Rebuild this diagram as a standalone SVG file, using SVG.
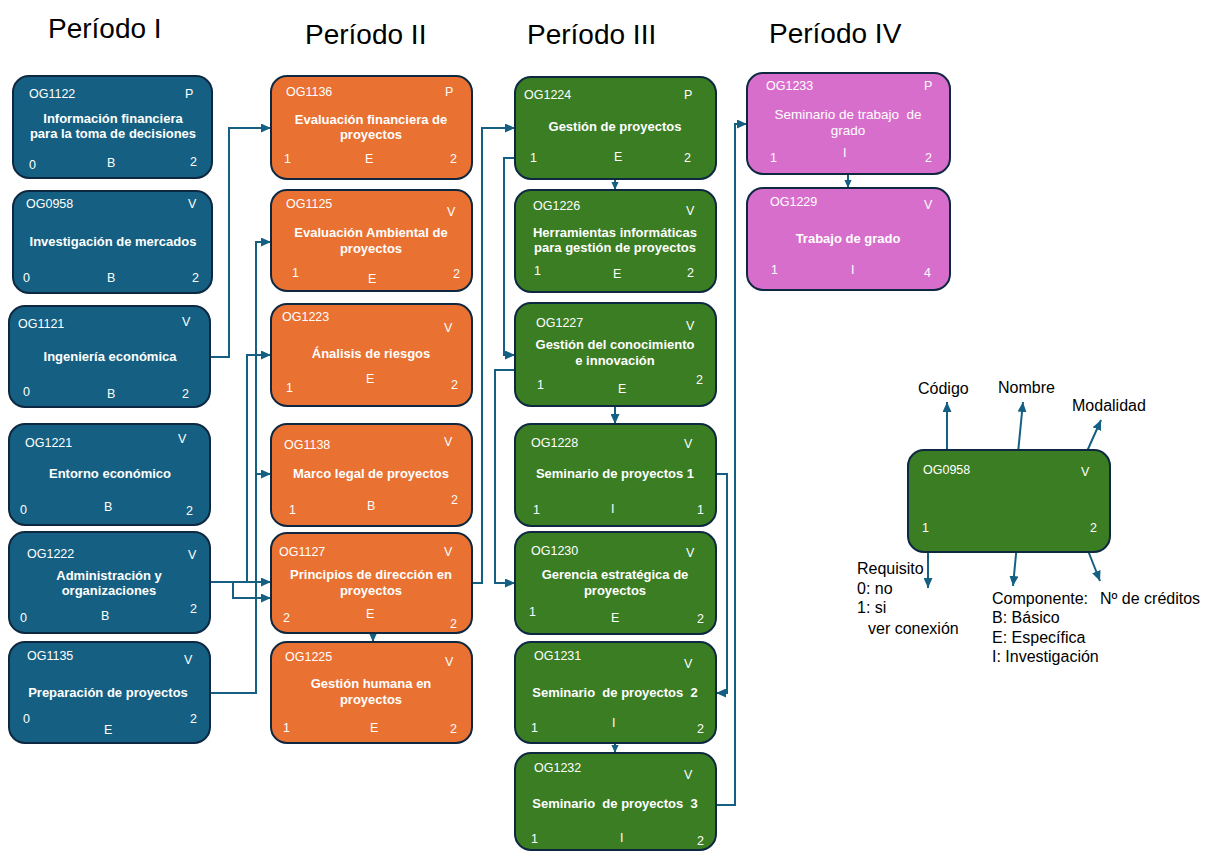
<svg xmlns="http://www.w3.org/2000/svg" width="1206" height="852" viewBox="0 0 1206 852">
<style>
.box{stroke:#0E2841;stroke-width:2}
.b1{fill:#156082}.b2{fill:#E97132}.b3{fill:#3B7D23}.b4{fill:#D86ECC}
text{font-family:"Liberation Sans",Arial,sans-serif;fill:#fff}
.c{font-size:12.5px}
.n{font-size:13px;font-weight:bold;text-anchor:middle}
.nr{font-size:13.5px;text-anchor:middle}
.t{font-size:28px;fill:#000}
.l{font-size:16px;fill:#000}
.con{fill:none;stroke:#156082;stroke-width:2}
</style>
<defs>
<marker id="ah" viewBox="0 0 10 9" refX="10" refY="4.5" markerWidth="10" markerHeight="9" markerUnits="userSpaceOnUse" orient="auto">
<path d="M0,0 L10,4.5 L0,9 z" fill="#156082"/>
</marker>
<marker id="as" viewBox="0 0 10 9" refX="10" refY="4.5" markerWidth="8" markerHeight="8" markerUnits="userSpaceOnUse" orient="auto">
<path d="M0,0 L10,4.5 L0,9 z" fill="#156082"/>
</marker>
</defs>
<rect width="1206" height="852" fill="#fff"/>
<g id="titles">
<text class="t" x="48" y="38">Período I</text>
<text class="t" x="305" y="44">Período II</text>
<text class="t" x="527" y="44">Período III</text>
<text class="t" x="769" y="43">Período IV</text>
</g>
<g id="connectors">
<path class="con" d="M211,357 H229 V128 H271" marker-end="url(#ah)"/>
<path class="con" d="M211,693 H256 V242 H271" marker-end="url(#ah)"/>
<path class="con" d="M256,474 H271" marker-end="url(#ah)"/>
<path class="con" d="M211,582 H247 V355 H271" marker-end="url(#ah)"/>
<path class="con" d="M211,582 H271" marker-end="url(#ah)"/>
<path class="con" d="M233,582 V598 H271" marker-end="url(#ah)"/>
<path class="con" d="M472,583 H482 V128 H515" marker-end="url(#ah)"/>
<path class="con" d="M515,158 H504 V355 H515" marker-end="url(#ah)"/>
<path class="con" d="M515,370 H495 V583 H515" marker-end="url(#ah)"/>
<path class="con" d="M615,179 V190" marker-end="url(#as)"/>
<path class="con" d="M615,406 V424" marker-end="url(#ah)"/>
<path class="con" d="M716,474 H727 V693 H716" marker-end="url(#ah)"/>
<path class="con" d="M615,743 V753" marker-end="url(#as)"/>
<path class="con" d="M716,805 H735 V124 H747" marker-end="url(#ah)"/>
<path class="con" d="M848,174 V188" marker-end="url(#as)"/>
<path class="con" d="M373,633 V642" marker-end="url(#as)"/>
<path class="con" d="M947,457 V402" marker-end="url(#ah)"/>
<path class="con" d="M1014,494 L1023,402" marker-end="url(#ah)"/>
<path class="con" d="M1084,458 L1101,420" marker-end="url(#ah)"/>
<path class="con" d="M928,543 V588" marker-end="url(#ah)"/>
<path class="con" d="M1018,533 L1013,586" marker-end="url(#ah)"/>
<path class="con" d="M1085,543 L1100,581" marker-end="url(#ah)"/>
</g>
<g id="OG1122">
<rect class="box b1" x="13" y="76" width="199" height="102" rx="16"/>
<text class="c" x="29" y="98">OG1122</text><text class="c" x="185" y="98">P</text>
<text class="n" x="113" y="123">Información financiera</text>
<text class="n" x="113" y="138">para la toma de decisiones</text>
<text class="c" x="29" y="169">0</text><text class="c" x="107" y="167">B</text><text class="c" x="190" y="166">2</text>
</g>
<g id="OG0958">
<rect class="box b1" x="13" y="191" width="199" height="102" rx="16"/>
<text class="c" x="26" y="208">OG0958</text><text class="c" x="188" y="208">V</text>
<text class="n" x="113" y="246">Investigación de mercados</text>
<text class="c" x="23" y="282">0</text><text class="c" x="107" y="282">B</text><text class="c" x="192" y="282">2</text>
</g>
<g id="OG1121">
<rect class="box b1" x="9" y="306" width="201" height="101" rx="16"/>
<text class="c" x="18" y="328">OG1121</text><text class="c" x="182" y="326">V</text>
<text class="n" x="110" y="361">Ingeniería económica</text>
<text class="c" x="23" y="396">0</text><text class="c" x="107" y="398">B</text><text class="c" x="182" y="398">2</text>
</g>
<g id="OG1221">
<rect class="box b1" x="9" y="424" width="201" height="101" rx="16"/>
<text class="c" x="25" y="447">OG1221</text><text class="c" x="178" y="443">V</text>
<text class="n" x="110" y="478">Entorno económico</text>
<text class="c" x="20" y="514">0</text><text class="c" x="104" y="511">B</text><text class="c" x="186" y="515">2</text>
</g>
<g id="OG1222">
<rect class="box b1" x="9" y="532" width="201" height="101" rx="16"/>
<text class="c" x="27" y="558">OG1222</text><text class="c" x="188" y="559">V</text>
<text class="n" x="109" y="580">Administración y</text>
<text class="n" x="109" y="595">organizaciones</text>
<text class="c" x="20" y="622">0</text><text class="c" x="101" y="620">B</text><text class="c" x="190" y="613">2</text>
</g>
<g id="OG1135">
<rect class="box b1" x="9" y="642" width="201" height="101" rx="16"/>
<text class="c" x="27" y="660">OG1135</text><text class="c" x="184" y="664">V</text>
<text class="n" x="108" y="697">Preparación de proyectos</text>
<text class="c" x="23" y="723">0</text><text class="c" x="104" y="734">E</text><text class="c" x="190" y="723">2</text>
</g>
<g id="OG1136">
<rect class="box b2" x="271" y="76" width="201" height="103" rx="16"/>
<text class="c" x="286" y="96">OG1136</text><text class="c" x="445" y="96">P</text>
<text class="n" x="371" y="124">Evaluación financiera de</text>
<text class="n" x="371" y="139">proyectos</text>
<text class="c" x="284" y="163">1</text><text class="c" x="365" y="163">E</text><text class="c" x="450" y="163">2</text>
</g>
<g id="OG1125">
<rect class="box b2" x="271" y="190" width="201" height="101" rx="16"/>
<text class="c" x="286" y="208">OG1125</text><text class="c" x="447" y="216">V</text>
<text class="n" x="371" y="237">Evaluación Ambiental de</text>
<text class="n" x="371" y="253">proyectos</text>
<text class="c" x="292" y="277">1</text><text class="c" x="368" y="283">E</text><text class="c" x="453" y="278">2</text>
</g>
<g id="OG1223">
<rect class="box b2" x="271" y="304" width="201" height="102" rx="16"/>
<text class="c" x="282" y="321">OG1223</text><text class="c" x="444" y="332">V</text>
<text class="n" x="371" y="358">Ánalisis de riesgos</text>
<text class="c" x="366" y="383">E</text><text class="c" x="286" y="392">1</text><text class="c" x="451" y="389">2</text>
</g>
<g id="OG1138">
<rect class="box b2" x="271" y="424" width="201" height="102" rx="16"/>
<text class="c" x="284" y="449">OG1138</text><text class="c" x="444" y="446">V</text>
<text class="n" x="371" y="478">Marco legal de proyectos</text>
<text class="c" x="451" y="504">2</text><text class="c" x="367" y="510">B</text><text class="c" x="289" y="514">1</text>
</g>
<g id="OG1127">
<rect class="box b2" x="271" y="533" width="201" height="100" rx="16"/>
<text class="c" x="279" y="556">OG1127</text><text class="c" x="444" y="556">V</text>
<text class="n" x="371" y="579">Principios de dirección en</text>
<text class="n" x="371" y="595">proyectos</text>
<text class="c" x="366" y="618">E</text><text class="c" x="283" y="622">2</text><text class="c" x="450" y="628">2</text>
</g>
<g id="OG1225">
<rect class="box b2" x="271" y="642" width="201" height="101" rx="16"/>
<text class="c" x="285" y="661">OG1225</text><text class="c" x="445" y="666">V</text>
<text class="n" x="371" y="688">Gestión humana en</text>
<text class="n" x="371" y="704">proyectos</text>
<text class="c" x="283" y="732">1</text><text class="c" x="370" y="732">E</text><text class="c" x="450" y="733">2</text>
</g>
<g id="OG1224">
<rect class="box b3" x="515" y="77" width="201" height="102" rx="16"/>
<text class="c" x="524" y="99">OG1224</text><text class="c" x="684" y="99">P</text>
<text class="n" x="615" y="131">Gestión de proyectos</text>
<text class="c" x="530" y="162">1</text><text class="c" x="614" y="161">E</text><text class="c" x="684" y="162">2</text>
</g>
<g id="OG1226">
<rect class="box b3" x="515" y="190" width="201" height="102" rx="16"/>
<text class="c" x="533" y="210">OG1226</text><text class="c" x="686" y="215">V</text>
<text class="n" x="615" y="237">Herramientas informáticas</text>
<text class="n" x="615" y="252">para gestión de proyectos</text>
<text class="c" x="534" y="275">1</text><text class="c" x="613" y="278">E</text><text class="c" x="687" y="277">2</text>
</g>
<g id="OG1227">
<rect class="box b3" x="515" y="303" width="201" height="103" rx="16"/>
<text class="c" x="536" y="327">OG1227</text><text class="c" x="686" y="330">V</text>
<text class="n" x="615" y="349">Gestión del conocimiento</text>
<text class="n" x="615" y="365">e innovación</text>
<text class="c" x="537" y="389">1</text><text class="c" x="618" y="393">E</text><text class="c" x="696" y="384">2</text>
</g>
<g id="OG1228">
<rect class="box b3" x="515" y="424" width="201" height="102" rx="16"/>
<text class="c" x="531" y="447">OG1228</text><text class="c" x="684" y="448">V</text>
<text class="n" x="615" y="478">Seminario de proyectos 1</text>
<text class="c" x="533" y="514">1</text><text class="c" x="611" y="513">I</text><text class="c" x="697" y="514">1</text>
</g>
<g id="OG1230">
<rect class="box b3" x="515" y="532" width="201" height="102" rx="16"/>
<text class="c" x="531" y="555">OG1230</text><text class="c" x="686" y="557">V</text>
<text class="n" x="615" y="579">Gerencia estratégica de</text>
<text class="n" x="615" y="595">proyectos</text>
<text class="c" x="529" y="616">1</text><text class="c" x="611" y="622">E</text><text class="c" x="697" y="623">2</text>
</g>
<g id="OG1231">
<rect class="box b3" x="515" y="642" width="201" height="101" rx="16"/>
<text class="c" x="534" y="660">OG1231</text><text class="c" x="684" y="668">V</text>
<text class="n" x="615" y="697" xml:space="preserve">Seminario  de proyectos  2</text>
<text class="c" x="531" y="732">1</text><text class="c" x="612" y="727">I</text><text class="c" x="697" y="733">2</text>
</g>
<g id="OG1232">
<rect class="box b3" x="515" y="753" width="201" height="97" rx="16"/>
<text class="c" x="534" y="772">OG1232</text><text class="c" x="684" y="779">V</text>
<text class="n" x="615" y="808" xml:space="preserve">Seminario  de proyectos  3</text>
<text class="c" x="531" y="843">1</text><text class="c" x="620" y="842">I</text><text class="c" x="697" y="845">2</text>
</g>
<g id="OG1233">
<rect class="box b4" x="747" y="73" width="203" height="101" rx="16"/>
<text class="c" x="766" y="90">OG1233</text><text class="c" x="924" y="90">P</text>
<text class="nr" x="848" y="119" xml:space="preserve">Seminario de trabajo  de</text>
<text class="nr" x="848" y="135">grado</text>
<text class="c" x="770" y="162">1</text><text class="c" x="843" y="157">I</text><text class="c" x="925" y="162">2</text>
</g>
<g id="OG1229">
<rect class="box b4" x="747" y="188" width="203" height="102" rx="16"/>
<text class="c" x="770" y="206">OG1229</text><text class="c" x="924" y="209">V</text>
<text class="n" x="848" y="243">Trabajo de grado</text>
<text class="c" x="771" y="274">1</text><text class="c" x="851" y="274">I</text><text class="c" x="924" y="277">4</text>
</g>
<g id="legend">
<rect class="box b3" x="908" y="450" width="202" height="102" rx="16"/>
<text class="c" x="923" y="474">OG0958</text><text class="c" x="1081" y="476">V</text>
<text class="c" x="922" y="532">1</text><text class="c" x="1090" y="532">2</text>
<text class="l" x="918" y="394">Código</text>
<text class="l" x="998" y="393">Nombre</text>
<text class="l" x="1072" y="411">Modalidad</text>
<text class="l" x="857" y="574">Requisito</text>
<text class="l" x="857" y="594">0: no</text>
<text class="l" x="857" y="613">1: si</text>
<text class="l" x="868" y="634">ver conexión</text>
<text class="l" x="992" y="604">Componente:</text>
<text class="l" x="1100" y="604">Nº de créditos</text>
<text class="l" x="992" y="623">B: Básico</text>
<text class="l" x="992" y="643">E: Específica</text>
<text class="l" x="992" y="662">I: Investigación</text>
</g>
</svg>
